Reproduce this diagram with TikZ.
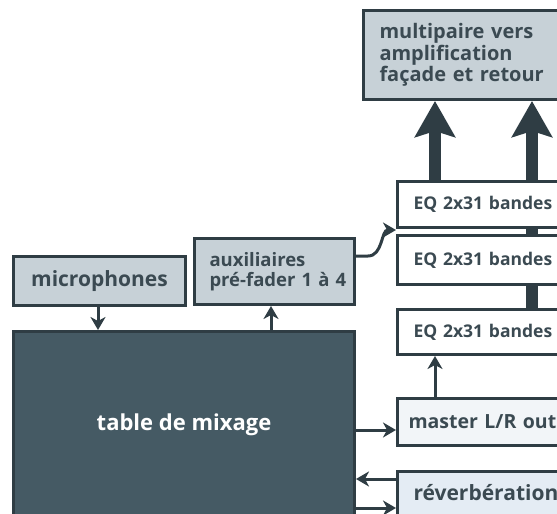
\documentclass[tikz,border=0pt]{standalone}
\usepackage{fontspec}
\setmainfont{Open Sans}
\usetikzlibrary{arrows.meta,backgrounds}
\definecolor{ink}{HTML}{2F3D44}
\definecolor{slate}{HTML}{455A64}
\definecolor{pale}{HTML}{C7D1D7}
\definecolor{mist}{HTML}{F2F5F8}
\definecolor{haze}{HTML}{E4ECF4}
\definecolor{txt}{HTML}{3B4A52}
\tikzset{
  blk/.style={draw=ink, line width=3pt, rectangle, anchor=north west,
    inner ysep=0pt, text=txt, font=\bfseries\fontsize{21}{21.5}\selectfont},
  grey/.style={blk, fill=pale},
  eqbox/.style={blk, fill=white, minimum height=46pt, inner xsep=16pt,
    text width=180pt, align=left, font=\bfseries\fontsize{17.5}{20}\selectfont},
  sig/.style={draw=ink, line width=3pt,
    -{Stealth[length=13pt, width=15pt, inset=4pt]}},
  fat/.style={draw=ink, line width=12pt,
    -{Stealth[length=36pt, width=40pt, inset=6pt]}}
}
\begin{document}
\begin{tikzpicture}[x=1pt,y=-1pt]
  \useasboundingbox (0,0) rectangle (557,514);
  \clip (0,0) rectangle (557,514);

  \node[grey, minimum height=89pt, inner xsep=16pt, text width=200pt, align=left,
    font=\bfseries\fontsize{20}{21.5}\selectfont]
    (multi) at (362,9) {multipaire vers\\amplification\\façade et retour};
  \node[eqbox] (eq1) at (396,180) {EQ 2x31 bandes};
  \node[eqbox, minimum height=49pt] (eq2) at (396,234) {EQ 2x31 bandes};
  \node[eqbox, minimum height=45pt] (eq3) at (396,308) {EQ 2x31 bandes};
  \node[blk, fill=mist, minimum height=47pt, inner xsep=11pt, text width=200pt, align=left,
    font=\bfseries\fontsize{19.5}{21.5}\selectfont] (master) at (396,397) {master L/R out};
  \node[blk, fill=haze, minimum height=50pt, inner xsep=16pt, text width=200pt, align=left,
    text depth=8pt] (reverb) at (396,470) {réverbération};
  \node[grey, minimum width=172pt, minimum height=49pt] (mic) at (12,255) {microphones};
  \node[grey, minimum height=66pt, inner xsep=15pt, text width=130pt, align=left,
    font=\bfseries\fontsize{18.5}{20}\selectfont]
    (aux) at (193,237) {auxiliaires\\\mbox{pré-fader 1 à 4}};
  \node[blk, fill=slate, text=white, minimum width=341pt, minimum height=200pt,
    text depth=18pt, font=\bfseries\fontsize{22}{24}\selectfont]
    (table) at (12,330) {table de mixage};

  \begin{pgfonlayer}{background}
    \draw[fat] (eq1.north -| 435,0) -- (multi.south -| 435,0);
    \draw[fat] (eq3.north -| 532,0) -- (multi.south -| 532,0);
  \end{pgfonlayer}

  \draw[sig] (mic.south -| 98,0) -- (table.north -| 98,0);
  \draw[sig] (table.north -| 271,0) -- (aux.south -| 271,0);
  \draw[sig] (aux.east |- 0,256) -- ++(12,0) to[out=0,in=180] (eq1.south west |- 0,230);
  \draw[sig] (table.east |- 0,430) -- (master.west |- 0,430);
  \draw[sig] (master.north -| 435,0) -- (eq3.south -| 435,0);
  \draw[sig] (reverb.west |- 0,479) -- (table.east |- 0,479);
  \draw[sig] (table.east |- 0,508) -- (reverb.west |- 0,508);
\end{tikzpicture}
\end{document}
